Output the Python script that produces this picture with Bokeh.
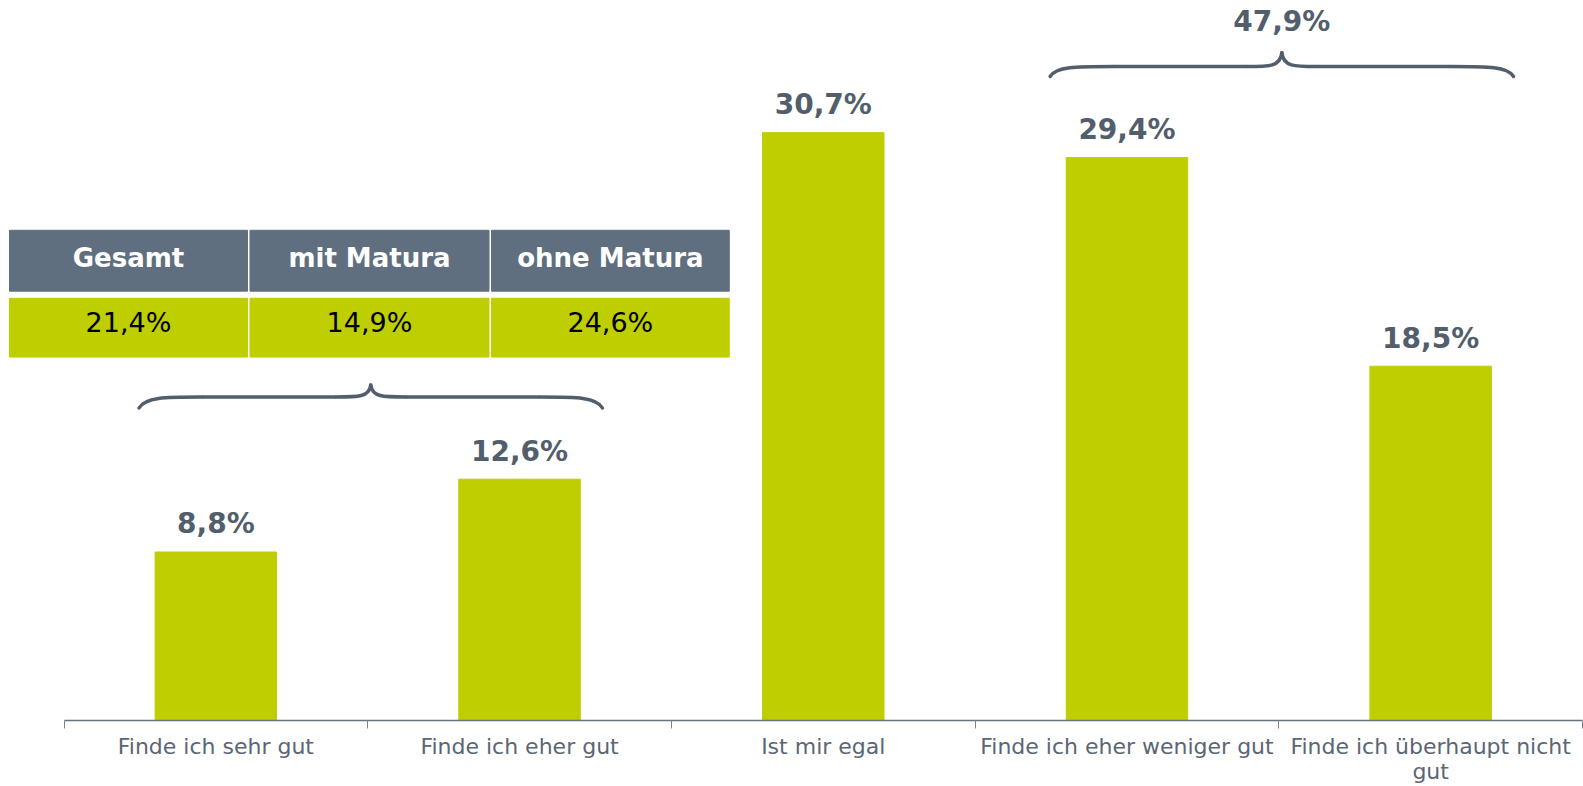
from bokeh.plotting import figure
from bokeh.models import FixedTicker, Range1d
from bokeh.core.properties import value
from bokeh.embed import file_html
from bokeh.resources import INLINE

# ---- data ----
categories = ["Finde ich sehr gut", "Finde ich eher gut", "Ist mir egal",
              "Finde ich eher weniger gut", "Finde ich überhaupt nicht\ngut"]
values = [8.8, 12.6, 30.7, 29.4, 18.5]
value_labels = ["8,8%", "12,6%", "30,7%", "29,4%", "18,5%"]
table_headers = ["Gesamt", "mit Matura", "ohne Matura"]
table_values = ["21,4%", "14,9%", "24,6%"]
group_total_label = "47,9%"

# ---- styling ----
BAR = "#BFCE00"
HEAD = "#5F6F7F"
DARK = "#525E6B"
AXIS_TXT = "#5B6675"
FONT = "DejaVu Sans"

xs = list(range(len(categories)))

p = figure(width=1583, height=786, output_backend="svg", toolbar_location=None,
           x_range=Range1d(-0.7091, 4.5033), y_range=Range1d(0, 37.6),
           y_axis_location=None, min_border_left=0, min_border_right=0,
           min_border_top=0, min_border_bottom=64)
p.outline_line_color = None
p.grid.visible = False
p.background_fill_color = "white"
p.border_fill_color = "white"

# bars
p.vbar(x=xs, top=values, width=0.4, color=BAR)
p.text(x=xs, y=values, text=value_labels, text_align="center", text_baseline="middle",
       y_offset=-28, text_font=value(FONT), text_font_style="bold",
       text_font_size="28px", text_color=DARK)

# x axis
ax = p.xaxis[0]
ax.ticker = FixedTicker(ticks=xs, minor_ticks=[i - 0.5 for i in range(len(categories) + 1)])
ax.major_label_overrides = {i: c for i, c in zip(xs, categories)}
ax.major_tick_out = 0
ax.major_tick_in = 0
ax.minor_tick_out = 8
ax.minor_tick_in = 0
ax.minor_tick_line_color = "#7A8490"
ax.axis_line_color = "#6A7480"
ax.axis_line_width = 1.5
ax.major_label_standoff = 5
ax.major_label_text_font = FONT
ax.major_label_text_font_size = "22px"
ax.major_label_text_line_height = 1.0
ax.major_label_text_color = AXIS_TXT
ax.bounds = (-0.5, 4.5)


# braces
def brace(xc, half, ytip, yflat, ypeak):
    x0, x1 = xc - half, xc + half
    d1, d2 = 0.207, 0.115
    segs = dict(x0=[], y0=[], x1=[], y1=[], cx0=[], cy0=[], cx1=[], cy1=[])
    for s, xe in ((1, x0), (-1, x1)):
        segs["x0"].append(xe); segs["y0"].append(ytip)
        segs["x1"].append(xe + s * d1); segs["y1"].append(yflat)
        segs["cx0"].append(xe + s * 0.02); segs["cy0"].append(yflat)
        segs["cx1"].append(xe + s * d1 * 0.4); segs["cy1"].append(yflat)
        segs["x0"].append(xc - s * d2); segs["y0"].append(yflat)
        segs["x1"].append(xc); segs["y1"].append(ypeak)
        segs["cx0"].append(xc - s * d2 * 0.35); segs["cy0"].append(yflat)
        segs["cx1"].append(xc - s * 0.005); segs["cy1"].append(yflat)
    p.bezier(**segs, line_color=DARK, line_width=3.5, line_cap="round")
    p.segment(x0=[x0 + d1, xc + d2], y0=[yflat, yflat], x1=[xc - d2, x1 - d1], y1=[yflat, yflat],
              line_color=DARK, line_width=3.5)


brace((xs[0] + xs[1]) / 2 + 0.01, 0.763, 16.32, 16.89, 17.52)
brace((xs[3] + xs[4]) / 2 + 0.01, 0.763, 33.63, 34.15, 34.87)
p.text(x=[(xs[3] + xs[4]) / 2 + 0.01], y=[34.87], text=[group_total_label], text_align="center",
       text_baseline="middle", y_offset=-31, text_font=value(FONT), text_font_style="bold",
       text_font_size="28px", text_color=DARK)

# table
cell_left = [-0.6795, 0.1124, 0.9077]
cell_right = [0.1042, 0.8994, 1.6905]
p.quad(left=cell_left, right=cell_right, top=[25.60] * 3, bottom=[22.42] * 3, color=HEAD)
p.quad(left=cell_left, right=cell_right, top=[22.05] * 3, bottom=[18.98] * 3, color=BAR)
cx = [(a + b) / 2 for a, b in zip(cell_left, cell_right)]
p.text(x=cx, y=[(25.60 + 22.42) / 2] * 3, text=table_headers, text_align="center",
       text_baseline="middle", y_offset=-3, text_font=value(FONT), text_font_style="bold",
       text_font_size="26px", text_color="white")
p.text(x=cx, y=[(22.05 + 18.98) / 2] * 3, text=table_values, text_align="center",
       text_baseline="middle", y_offset=-5, text_font=value(FONT),
       text_font_size="27px", text_color="black")

open("out.html", "w").write(file_html(p, INLINE))
